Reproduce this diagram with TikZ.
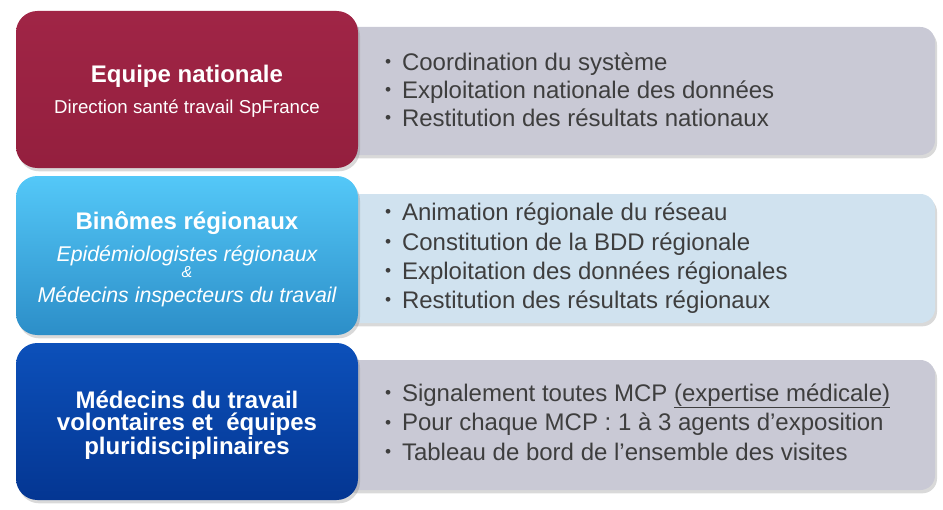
\documentclass[tikz,border=0pt]{standalone}
\usepackage{fontspec}
\setmainfont{Liberation Sans}
\usetikzlibrary{shadows,positioning}

\definecolor{bordeauxHaut}{RGB}{160,37,70}
\definecolor{bordeauxBas}{RGB}{148,31,62}
\definecolor{cielHaut}{RGB}{84,200,248}
\definecolor{cielBas}{RGB}{44,142,200}
\definecolor{marineHaut}{RGB}{12,80,186}
\definecolor{marineBas}{RGB}{4,54,146}
\definecolor{grisLilas}{RGB}{201,201,213}
\definecolor{bleuPale}{RGB}{208,226,239}
\definecolor{texteGris}{RGB}{62,62,62}

\newcommand{\puce}{\makebox[12.75pt][l]{\raisebox{.12em}{\fontsize{13}{13}\selectfont\textbullet}}}
\newcommand{\souligne}[1]{\underline{\smash{#1}\rule[-2.6pt]{0pt}{0pt}}}

\begin{document}
\begin{tikzpicture}[x=0.75pt,y=-0.75pt,
        role/.style={rectangle, rounded corners=16pt, minimum width=256.5pt,
            align=center, text=white, font=\fontsize{16}{12}\selectfont,
            drop shadow={opacity=0.3, shadow xshift=1.5pt, shadow yshift=-2.5pt}},
        cadre/.style={rectangle, rounded corners=11pt, minimum width=446.25pt,
            drop shadow={opacity=0.3, shadow xshift=1.5pt, shadow yshift=-2.5pt}},
        liste/.style={inner sep=0pt, align=left, text=texteGris,
            font=\fontsize{18}{21}\selectfont}]

    \useasboundingbox (0,0) rectangle (943,510);

    % missions (derriere)
    \node[cadre, fill=grisLilas, minimum height=96pt] (tachesNat) at (637.5,91) {};
    \node[cadre, fill=bleuPale, minimum height=96.75pt] (tachesReg) at (637.5,258.5) {};
    \node[cadre, fill=grisLilas, minimum height=97.5pt] (tachesMdt) at (637.5,425) {};

    \node[liste, right=33.75pt of tachesNat.west, yshift=0.75pt] (listeNat)
        {\puce Coordination du système\\
         \puce Exploitation nationale des données\\
         \puce Restitution des résultats nationaux};
    \node[liste, right=33.75pt of tachesReg.west, yshift=0pt,
          font=\fontsize{18}{22}\selectfont] (listeReg)
        {\puce Animation régionale du réseau\\
         \puce Constitution de la BDD régionale\\
         \puce Exploitation des données régionales\\
         \puce Restitution des résultats régionaux};
    \node[liste, right=33.75pt of tachesMdt.west, yshift=2pt,
          font=\fontsize{18}{22}\selectfont] (listeMdt)
        {\puce Signalement toutes MCP \souligne{(expertise médicale)}\\
         \puce Pour chaque MCP : 1 à 3 agents d’exposition\\
         \puce Tableau de bord de l’ensemble des visites};

    % acteurs
    \node[role, top color=bordeauxHaut, bottom color=bordeauxBas,
          minimum height=117.75pt] (equipeNat) at (187,89.5)
        {\rule{0pt}{16.2pt}{\fontsize{18}{22}\selectfont\bfseries Equipe nationale}\\[8.25pt]
         {\fontsize{14}{17}\selectfont Direction santé travail SpFrance}};
    \node[role, top color=cielHaut, bottom color=cielBas,
          minimum height=119.25pt] (binomes) at (187,255.5)
        {\rule{0pt}{19pt}{\fontsize{18}{22}\selectfont\bfseries Binômes régionaux}\\[7.5pt]
         {\itshape Epidémiologistes régionaux}\\
         {\fontsize{12}{12}\selectfont\itshape \&}\\[6.5pt]
         {\itshape Médecins inspecteurs du travail}};
    \node[role, top color=marineHaut, bottom color=marineBas,
          minimum height=117.75pt, font=\fontsize{18}{16.5}\selectfont\bfseries] (medecins) at (187,421.5)
        {\rule{0pt}{19pt}Médecins du travail\\
         volontaires et \ équipes\\
         pluridisciplinaires};
\end{tikzpicture}
\end{document}
